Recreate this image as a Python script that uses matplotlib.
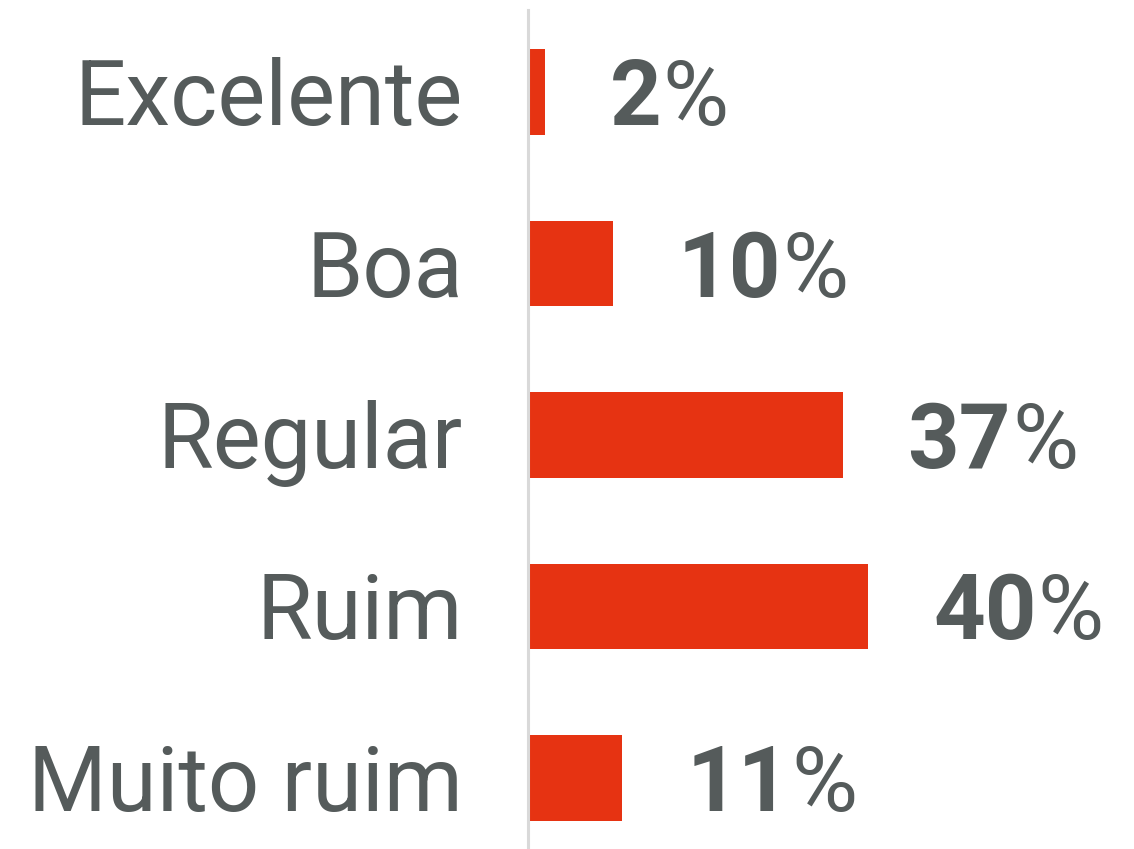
import matplotlib.pyplot as plt

# Data
categories = ['Excelente', 'Boa', 'Regular', 'Ruim', 'Muito ruim']
values = [2, 10, 37, 40, 11]

red = '#e63312'
grey = '#555b5b'
fam = ['Roboto', 'DejaVu Sans']
fs = 65

fig = plt.figure(figsize=(11.34, 8.49), dpi=100)
ax = fig.add_axes([528 / 1134, 0, 606 / 1134, 839 / 849])

ypos = list(range(len(categories)))
ax.barh(ypos, values, height=0.5, color=red)

ax.set_xlim(0, 606 / 8.5)
ax.set_ylim(4 + 71 / 171.5, -82 / 171.5)

for side in ['top', 'right', 'bottom']:
    ax.spines[side].set_visible(False)
ax.spines['left'].set_color('#d9d9d9')
ax.spines['left'].set_linewidth(2.2)
ax.set_xticks([])
ax.set_yticks([])

for y, cat, v in zip(ypos, categories, values):
    ax.annotate(cat, xy=(0, y), xycoords='data',
                xytext=(-65, -33), textcoords='offset pixels',
                ha='right', va='baseline', fontsize=fs, color=grey, family=fam)
    num = ax.annotate(str(v), xy=(v, y), xycoords='data',
                      xytext=(65, -33), textcoords='offset pixels',
                      ha='left', va='baseline', fontsize=fs, color=grey,
                      fontweight='bold', family=fam)
    ax.annotate('%', xy=(1, 0), xycoords=num, xytext=(1, 0),
                textcoords='offset pixels', ha='left', va='bottom',
                fontsize=fs, color=grey, family=fam)

fig.savefig('out.png', dpi=100)
